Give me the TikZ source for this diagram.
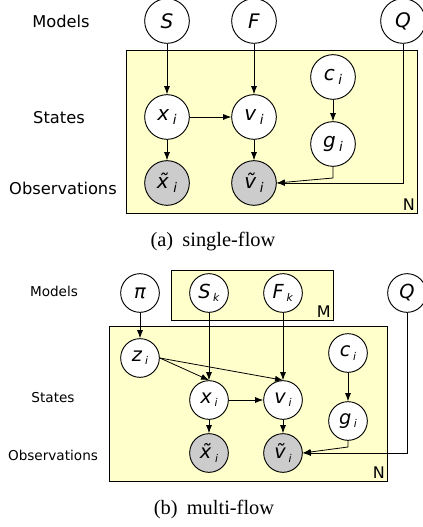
\documentclass[tikz,border=0pt]{standalone}
\usepackage{fontspec}
\setsansfont{DejaVu Sans}
\newfontfamily\capfont{Liberation Serif}
\usetikzlibrary{arrows.meta}
\definecolor{plateyellow}{RGB}{255,255,204}
\definecolor{obsgray}{RGB}{204,204,204}
\newcommand\VA[2]{\textit{#1}\kern2.6pt\raisebox{-3pt}{\fontsize{10}{10}\selectfont\textit{#2}}}
\newcommand\VB[2]{\textit{#1}\kern2pt\raisebox{-2.5pt}{\fontsize{8}{8}\selectfont\textit{#2}}}
\begin{document}
\begin{tikzpicture}[x=0.75pt,y=-0.75pt,
  lbla/.style={font=\sffamily\fontsize{12.2}{14}\selectfont},
  lblb/.style={font=\sffamily\fontsize{10.2}{12}\selectfont},
  vara/.style={circle,draw,fill=white,minimum size=33.5pt,inner sep=0pt,line width=0.7pt,font=\sffamily\fontsize{15}{17}\selectfont},
  obsa/.style={vara,fill=obsgray},
  varb/.style={circle,draw,fill=white,minimum size=29pt,inner sep=0pt,line width=0.7pt,font=\sffamily\fontsize{14.5}{16}\selectfont},
  obsb/.style={varb,fill=obsgray},
  plate/.style={draw,fill=plateyellow,line width=0.7pt},
  platelbl/.style={anchor=south east,inner sep=1.5pt,font=\sffamily\fontsize{12}{14}\selectfont},
  arr/.style={-{Latex[length=6pt,width=4.5pt]},line width=0.6pt},
  capt/.style={font=\capfont\fontsize{15.3}{18}\selectfont}]
\useasboundingbox (0,0) rectangle (422,527);
% ---------- (a) ----------
\draw[plate] (126,50) rectangle (417,213);
\node[platelbl] (Na) at (417,213) {N};
\node[lbla] (la1) at (61,21) {Models};
\node[lbla] (la2) at (59,118) {States};
\node[lbla] (la3) at (63,188) {Observations};
\node[vara] (Sa) at (167,21) {\textit{S}};
\node[vara] (Fa) at (254,21) {\textit{F}};
\node[vara] (Qa) at (403,21) {\textit{Q}};
\node[vara] (ca) at (333,77) {\VA{c}{i}};
\node[vara] (xa) at (167,117) {\VA{x}{i}};
\node[vara] (va) at (254,117) {\VA{v}{i}};
\node[vara] (ga) at (333,144) {\VA{g}{i}};
\node[obsa] (xta) at (167,183) {\VA{\~{x}}{i}};
\node[obsa] (vta) at (254,183) {\VA{\~{v}}{i}};
\draw[arr] (Sa) -- (xa);
\draw[arr] (Fa) -- (va);
\draw[arr] (xa) -- (va);
\draw[arr] (xa) -- (xta);
\draw[arr] (va) -- (vta);
\draw[arr] (ca) -- (ga);
\coordinate (gka) at (333,178);
\draw[arr] (ga.south) -- (gka) -- (vta.east);
\draw[arr] (Qa.south) |- (vta.east);
\node[capt] (capa) at (213,242) {(a)\hspace{0.45em}single-flow};
% ---------- (b) ----------
\draw[plate] (171,270) rectangle (333,320);
\node[platelbl] (Mb) at (333,320) {M};
\draw[plate] (109,326) rectangle (387,481);
\node[platelbl] (Nb) at (387,481) {N};
\node[lblb] (lb1) at (54,291) {Models};
\node[lblb] (lb2) at (53,398) {States};
\node[lblb] (lb3) at (53,455) {Observations};
\node[varb] (pib) at (140,293) {\textit{π}};
\node[varb] (Sb) at (209,293) {\VB{S}{k}};
\node[varb] (Fb) at (283,293) {\VB{F}{k}};
\node[varb] (Qb) at (407,293) {\textit{Q}};
\node[varb] (zb) at (140,358) {\VB{z}{i}};
\node[varb] (cb) at (348,353) {\VB{c}{i}};
\node[varb] (xb) at (209,400) {\VB{x}{i}};
\node[varb] (vb) at (283,400) {\VB{v}{i}};
\node[varb] (gb) at (348,421) {\VB{g}{i}};
\node[obsb] (xtb) at (209,453) {\VB{\~{x}}{i}};
\node[obsb] (vtb) at (283,453) {\VB{\~{v}}{i}};
\draw[arr] (pib) -- (zb);
\draw[arr] (Sb) -- (xb);
\draw[arr] (Fb) -- (vb);
\draw[arr] (zb.east) -- (xb.north);
\draw[arr] (zb.east) -- (vb.north);
\draw[arr] (xb) -- (vb);
\draw[arr] (xb) -- (xtb);
\draw[arr] (vb) -- (vtb);
\draw[arr] (cb) -- (gb);
\coordinate (gkb) at (348,447);
\draw[arr] (gb.south) -- (gkb) -- (vtb.east);
\draw[arr] (Qb.south) |- (vtb.east);
\node[capt] (capb) at (214,509) {(b)\hspace{0.45em}multi-flow};
\end{tikzpicture}
\end{document}
